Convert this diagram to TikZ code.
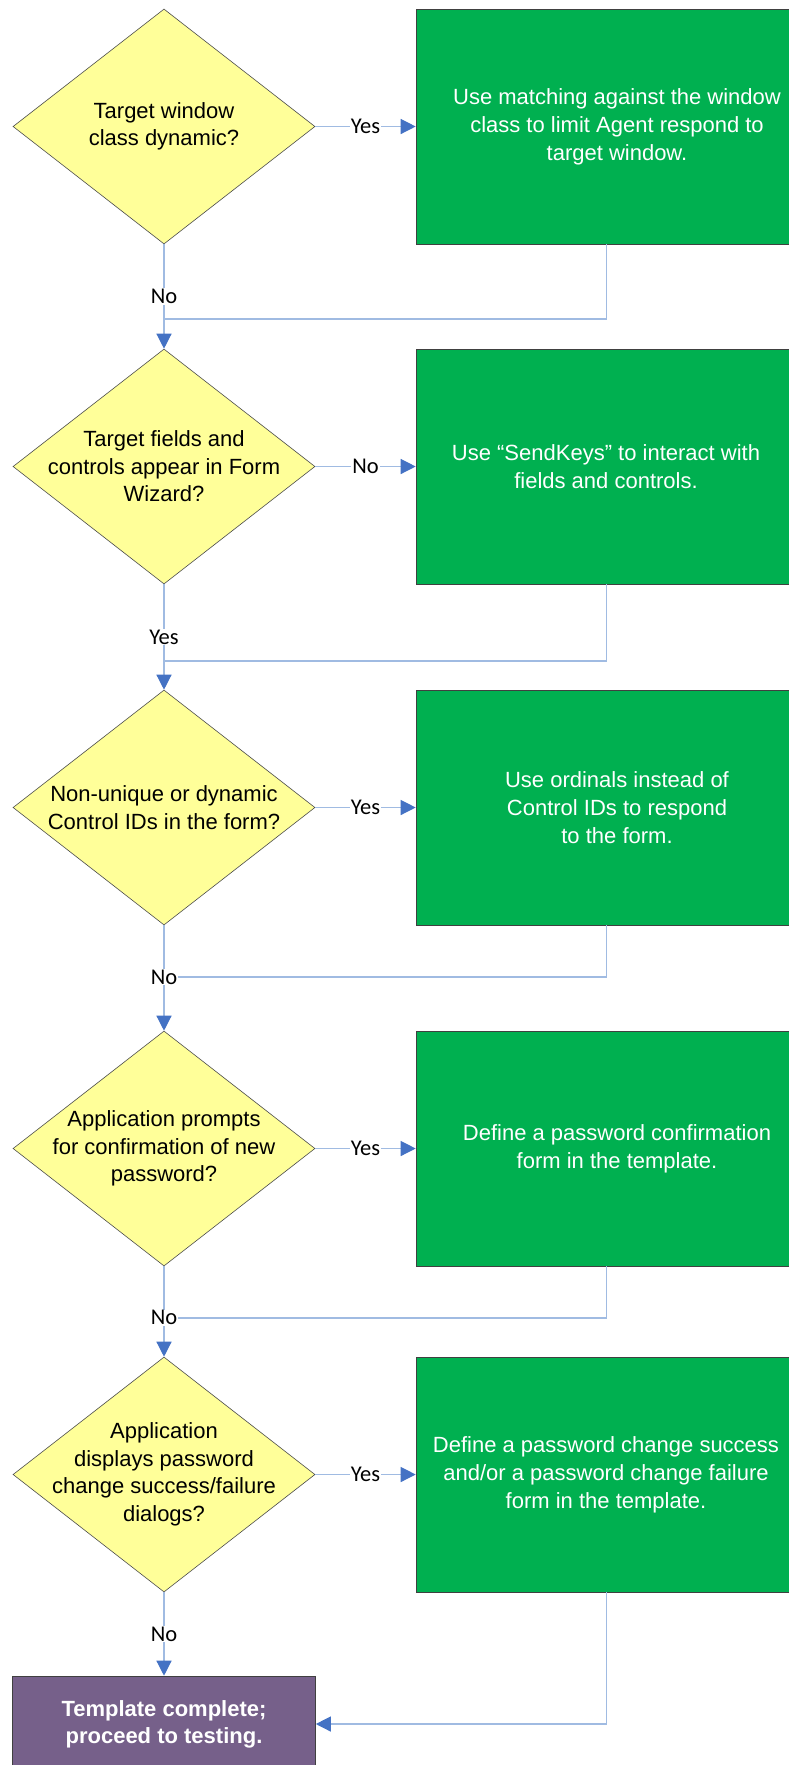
\documentclass[tikz,border=0pt]{standalone}
\usepackage{fontspec}
\setmainfont{Liberation Sans}
\newfontfamily\answerfont{Carlito}
\usetikzlibrary{shapes.geometric,arrows.meta}
\definecolor{decisionY}{RGB}{255,255,153}
\definecolor{actionG}{RGB}{0,176,80}
\definecolor{finalP}{RGB}{118,96,138}
\definecolor{linkB}{RGB}{160,187,226}
\definecolor{tipB}{RGB}{68,114,196}

\begin{document}
\begin{tikzpicture}[x=1pt,y=-1pt,
  decision/.style={diamond,draw=black!70,fill=decisionY,line width=0.6pt,
    minimum width=302pt,minimum height=235pt,inner sep=0pt},
  dectext/.style={align=center,text=black,font=\fontsize{22}{27.5}\selectfont},
  action/.style={rectangle,draw=black!75,fill=actionG,line width=0.6pt,
    minimum width=#1,minimum height=235pt,align=center,text=white,
    font=\fontsize{22}{28}\selectfont},
  action/.default=402pt,
  final/.style={rectangle,draw=black!75,fill=finalP,line width=0.6pt,
    minimum width=303pt,minimum height=96pt,align=center,text=white,
    font=\bfseries\fontsize{22}{27}\selectfont},
  link/.style={draw=linkB,line width=1.3pt},
  arrowlink/.style={link,-{Triangle[length=15pt,width=15pt,color=tipB]}},
  answer/.style={fill=white,inner sep=1pt,text=black,
    font=\answerfont\fontsize{22.5}{22.5}\selectfont}
]

  % Page frame
  \useasboundingbox (0,0) rectangle (788,1765);

  % Decisions (left column)
  \node[decision,label={[dectext]center:Target window\\class dynamic?}] (d1) at (164,126.5) {};
  \node[decision,label={[dectext]center:Target fields and\\controls appear in Form\\Wizard?}] (d2) at (164,466.5) {};
  \node[decision,label={[dectext]center:Non-unique or dynamic\\Control IDs in the form?}] (d3) at (164,807.5) {};
  \node[decision,label={[dectext]center:Application prompts\\for confirmation of new\\password?}] (d4) at (164,1148.5) {};
  \node[decision,label={[dectext]center:Application\\displays password\\change success/failure\\dialogs?}] (d5) at (164,1474.5) {};

  % Actions (right column, right edge runs off the page)
  \node[action] (g1) at (617,126.5) {Use matching against the window\\class to limit Agent respond to\\target window.};
  \node[action=380pt] (g2) at (606,466.5) {Use “SendKeys” to interact with\\fields and controls.};
  \node[action] (g3) at (617,807.5) {Use ordinals instead of\\Control IDs to respond\\to the form.};
  \node[action] (g4) at (617,1148.5) {Define a password confirmation\\form in the template.};
  \node[action=380pt] (g5) at (606,1474.5) {Define a password change success\\and/or a password change failure\\form in the template.};

  % Final step
  \node[final] (fin) at (164,1724) {Template complete;\\proceed to testing.};

  % Merge points on the main column
  \coordinate (m1) at (164,319);
  \coordinate (m2) at (164,661);
  \coordinate (m3) at (164,977);
  \coordinate (m4) at (164,1318);

  % Return lines from the actions
  \draw[link] ([xshift=191pt]g1.south west) |- (m1);
  \draw[link] ([xshift=191pt]g2.south west) |- (m2);
  \draw[link] ([xshift=191pt]g3.south west) |- (m3);
  \draw[link] ([xshift=191pt]g4.south west) |- (m4);
  \draw[arrowlink] ([xshift=191pt]g5.south west) |- (fin.east);

  % Side branches
  \draw[arrowlink] (d1.east) -- node[answer] {Yes} (g1.west);
  \draw[arrowlink] (d2.east) -- node[answer] {No} (g2.west);
  \draw[arrowlink] (d3.east) -- node[answer] {Yes} (g3.west);
  \draw[arrowlink] (d4.east) -- node[answer] {Yes} (g4.west);
  \draw[arrowlink] (d5.east) -- node[answer] {Yes} (g5.west);

  % Main column
  \draw[arrowlink] (d1.south) -- node[answer,pos=0.5] {No} (d2.north);
  \draw[arrowlink] (d2.south) -- node[answer,pos=0.5] {Yes} (d3.north);
  \draw[arrowlink] (d3.south) -- node[answer,pos=0.49] {No} (d4.north);
  \draw[arrowlink] (d4.south) -- node[answer,pos=0.57] {No} (d5.north);
  \draw[arrowlink] (d5.south) -- node[answer,pos=0.5] {No} (fin.north);

\end{tikzpicture}
\end{document}
